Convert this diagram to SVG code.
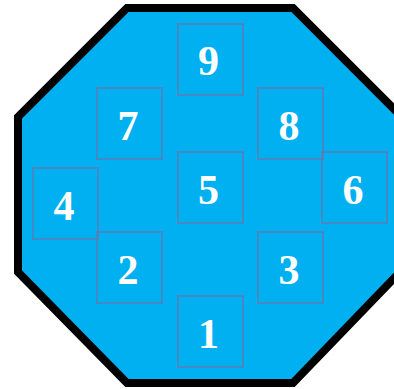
<svg xmlns="http://www.w3.org/2000/svg" width="394" height="389" viewBox="0 0 394 389">
<style>
.box{fill:none;stroke:#5b7cb4;stroke-width:1.5}
.lbl{font-family:"Liberation Serif",serif;font-weight:bold;font-size:42px;fill:#fff;text-anchor:middle}
</style>
<rect width="394" height="389" fill="#fff"/>
<polygon points="127,8 293,8 402,117 402,270 293,383 127,383 18,272 18,117" fill="#00b0f0" stroke="#000" stroke-width="8" stroke-linejoin="miter"/>
<g id="connectors"></g>
<g id="n9"><rect class="box" x="178" y="24" width="65" height="71"/><text class="lbl" x="208.5" y="75">9</text></g>
<g id="n7"><rect class="box" x="97" y="88" width="65" height="71"/><text class="lbl" x="128" y="140">7</text></g>
<g id="n8"><rect class="box" x="258" y="88" width="65" height="71"/><text class="lbl" x="289" y="140">8</text></g>
<g id="n4"><rect class="box" x="33" y="168" width="65" height="71"/><text class="lbl" x="64" y="220">4</text></g>
<g id="n5"><rect class="box" x="178" y="152" width="65" height="71"/><text class="lbl" x="208.5" y="204">5</text></g>
<g id="n6"><rect class="box" x="322" y="152" width="65" height="71"/><text class="lbl" x="353" y="204">6</text></g>
<g id="n2"><rect class="box" x="97" y="232" width="65" height="71"/><text class="lbl" x="128" y="284">2</text></g>
<g id="n3"><rect class="box" x="258" y="232" width="65" height="71"/><text class="lbl" x="289" y="284">3</text></g>
<g id="n1"><rect class="box" x="178" y="296" width="65" height="71"/><text class="lbl" x="208.5" y="348">1</text></g>
</svg>
